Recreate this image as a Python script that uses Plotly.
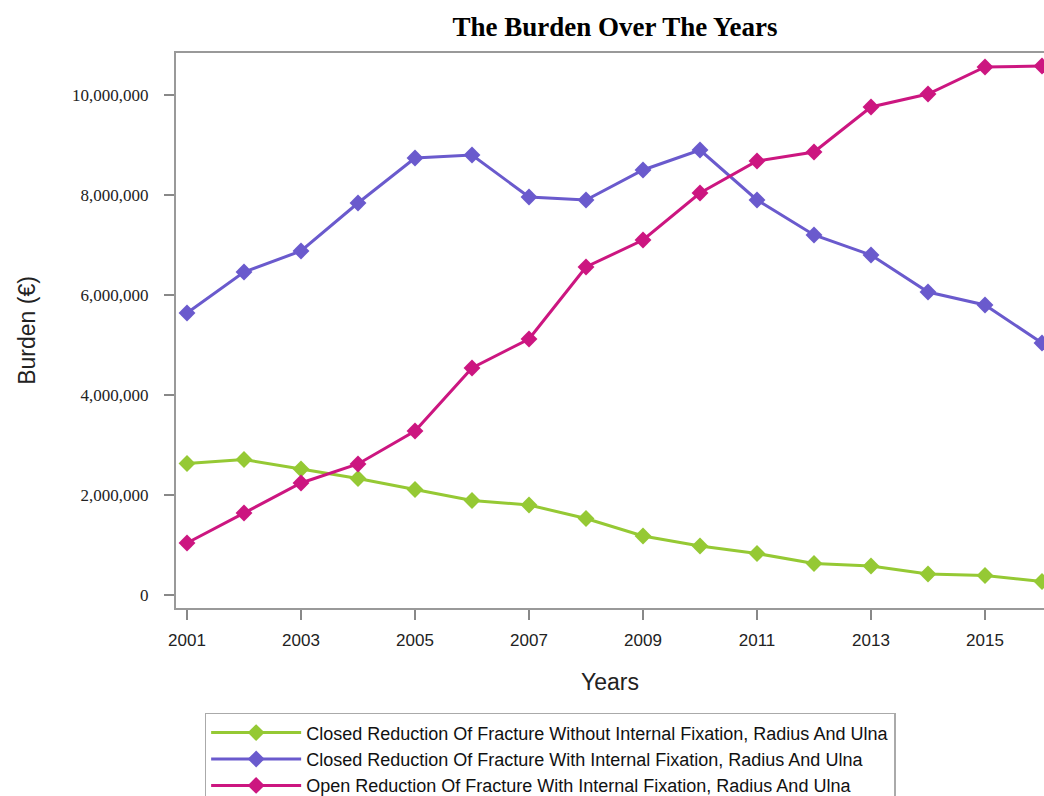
import plotly.graph_objects as go

years = list(range(2001, 2017))
closed_without = [2.63e6, 2.71e6, 2.52e6, 2.33e6, 2.11e6, 1.89e6, 1.80e6, 1.53e6,
                  1.18e6, 0.98e6, 0.83e6, 0.63e6, 0.58e6, 0.42e6, 0.39e6, 0.27e6]
closed_with = [5.64e6, 6.46e6, 6.88e6, 7.84e6, 8.74e6, 8.80e6, 7.96e6, 7.90e6,
               8.50e6, 8.90e6, 7.90e6, 7.20e6, 6.80e6, 6.06e6, 5.80e6, 5.04e6]
open_with = [1.04e6, 1.64e6, 2.24e6, 2.62e6, 3.28e6, 4.54e6, 5.12e6, 6.56e6,
             7.10e6, 8.04e6, 8.68e6, 8.86e6, 9.76e6, 10.02e6, 10.56e6, 10.58e6]
names = ["Closed Reduction Of Fracture Without Internal Fixation, Radius And Ulna",
         "Closed Reduction Of Fracture With Internal Fixation, Radius And Ulna",
         "Open Reduction Of Fracture With Internal Fixation, Radius And Ulna"]
colors = ["#95C934", "#6A5ACD", "#CC1680"]
x_ticks = [2001, 2003, 2005, 2007, 2009, 2011, 2013, 2015]
y_ticks = [0, 2e6, 4e6, 6e6, 8e6, 10e6]
y_tick_text = ["0", "2,000,000", "4,000,000", "6,000,000", "8,000,000", "10,000,000"]

fig = go.Figure()
for series, name, color in zip([closed_without, closed_with, open_with], names, colors):
    fig.add_trace(go.Scatter(
        x=years, y=series, name=name, mode="lines+markers",
        line=dict(color=color, width=3),
        marker=dict(symbol="diamond", size=13, color=color),
    ))

fig.update_layout(
    width=1044, height=796,
    paper_bgcolor="white", plot_bgcolor="white",
    margin=dict(l=176, r=0, t=53, b=188, autoexpand=False),
    title=dict(text="<b>The Burden Over The Years</b>", x=0.589, xanchor="center",
               y=1 - 27 / 796, yanchor="middle",
               font=dict(family="Liberation Serif", size=27, color="black")),
    xaxis=dict(range=[2000.807, 2016.035], tickvals=x_ticks,
               ticks="outside", ticklen=10, tickcolor="#888", tickwidth=1.5,
               showline=True, linecolor="#999", linewidth=2, mirror=True,
               showgrid=False, zeroline=False, ticklabelstandoff=6,
               tickfont=dict(family="Liberation Sans", size=17, color="#222"),
               title=dict(text="Years", standoff=24,
                          font=dict(family="Liberation Sans", size=23, color="#222"))),
    yaxis=dict(range=[-0.26e6, 10.84e6], tickvals=y_ticks, ticktext=y_tick_text,
               ticks="outside", ticklen=10, tickcolor="#888", tickwidth=1.5,
               showline=True, linecolor="#999", linewidth=2,
               showgrid=False, zeroline=False, ticklabelstandoff=12,
               tickfont=dict(family="Liberation Serif", size=17, color="#222"),
               title=dict(text="Burden (€)", standoff=30,
                          font=dict(family="Liberation Sans", size=23, color="#222"))),
    legend=dict(x=0.033, y=-0.189, xanchor="left", yanchor="top",
                bordercolor="#aaa", borderwidth=1.5, bgcolor="white",
                font=dict(family="Liberation Sans", size=18, color="#111"),
                tracegroupgap=0, itemwidth=90),
    showlegend=True,
)

fig.write_html("out.html", config={"displayModeBar": False},
               post_script="document.body.style.margin='0';")
